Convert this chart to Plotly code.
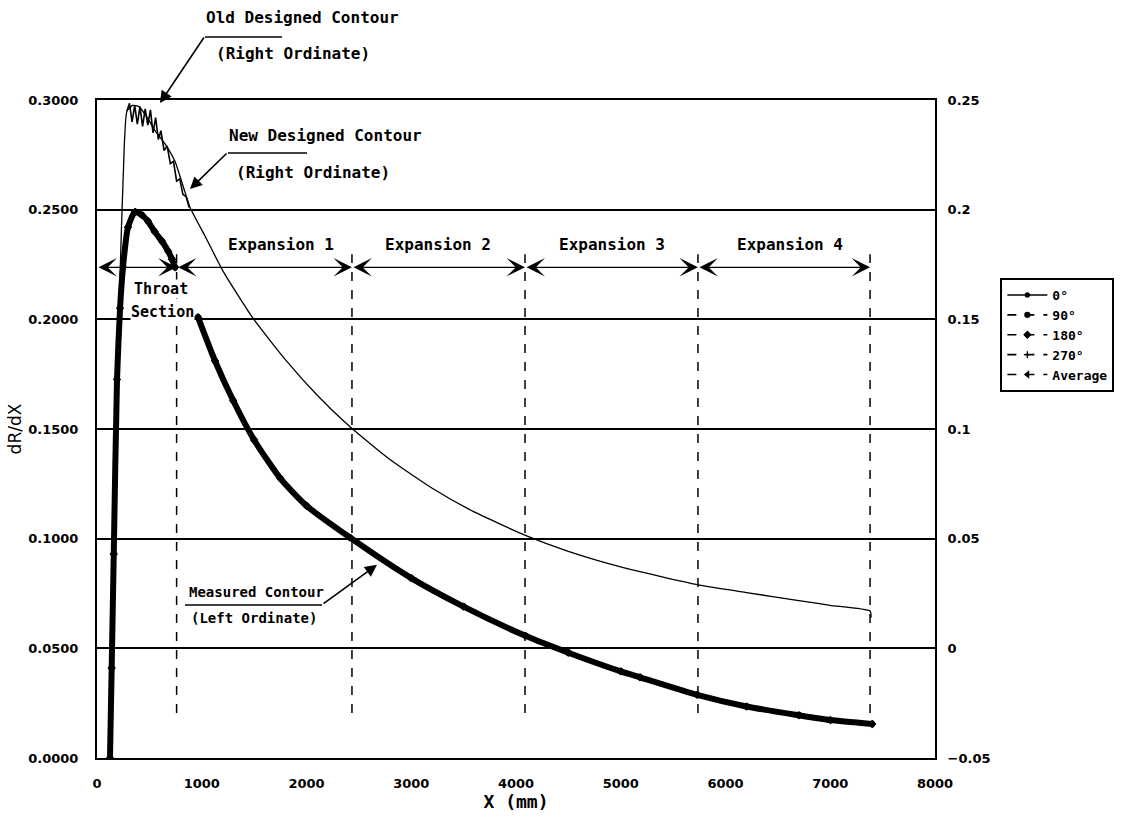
import plotly.graph_objects as go

# ---------------- data ----------------
# Measured contour (left ordinate, dR/dX); None marks the gap after the throat section
measured_x = [124, 140, 160, 191, 220, 248, 296, 363, 430, 487, 550, 620, 680, 716, 745, None,
              964, 1127, 1300, 1500, 1750, 2000, 2415, 3000, 3500, 4090, 4500, 5000, 5184,
              5730, 6200, 6700, 7000, 7400]
measured_dRdX = [0.0, 0.041, 0.093, 0.1726, 0.205, 0.2237, 0.242, 0.249, 0.2475, 0.2447, 0.240,
                 0.2356, 0.231, 0.2274, 0.2237, None,
                 0.201, 0.181, 0.163, 0.145, 0.1275, 0.1150, 0.1005, 0.082, 0.069, 0.0557,
                 0.048, 0.0395, 0.0368, 0.0288, 0.0235, 0.0195, 0.0173, 0.0155]

# New designed contour (right ordinate)
new_x = [124, 160, 191, 220, 250, 286, 340, 400, 480, 554, 649, 745, 840, 888, 1031, 1203, 1489,
         1800, 2100, 2415, 2800, 3200, 3600, 4090, 4500, 5000, 5730, 6200, 6700, 7000,
         7380, 7390]
new_dRdX = [-0.05, 0.043, 0.116, 0.170, 0.215, 0.245, 0.2475, 0.247, 0.242, 0.236, 0.230, 0.222,
            0.208, 0.201, 0.188, 0.172, 0.1505, 0.1315, 0.1155, 0.101, 0.086, 0.073, 0.0622,
            0.0515, 0.0442, 0.0371, 0.029, 0.0254, 0.0218, 0.0196, 0.0170, 0.0140]

# Old designed contour (right ordinate), wavy near the throat
old_x = [286, 310, 335, 360, 385, 410, 435, 460, 485, 510, 535, 560, 585, 610, 640, 670, 700,
         730, 760, 790, 820, 850, 880]
old_dRdX = [0.245, 0.2485, 0.240, 0.2475, 0.239, 0.247, 0.238, 0.246, 0.2385, 0.2455, 0.235,
            0.242, 0.232, 0.236, 0.227, 0.229, 0.221, 0.222, 0.213, 0.214, 0.207, 0.206, 0.201]

# Section boundaries (mm) and labels
section_bounds = [0, 760, 2434, 4086, 5737, 7380]
section_labels = ["Expansion 1", "Expansion 2", "Expansion 3", "Expansion 4"]
section_label_x = [1757, 3255, 4916, 6616]

legend_names = ["0°", "90°", "180°", "270°", "Average"]

# ---------------- styles ----------------
MONO = "DejaVu Sans Mono"
TICKF = dict(family="DejaVu Sans", size=13, color="black", weight="bold")
XTICKF = dict(family="DejaVu Sans", size=13, color="black", weight="bold")

fig = go.Figure()

styles = [
    dict(dash="solid", symbol="circle", size=4),
    dict(dash="dash", symbol="circle", size=5),
    dict(dash="dash", symbol="diamond", size=5),
    dict(dash="dash", symbol="cross-thin", size=5),
    dict(dash="dash", symbol="triangle-left", size=5),
]
# the four angle series and the average (they coincide on the chart)
for name, st in zip(legend_names, styles):
    fig.add_trace(go.Scatter(
        x=measured_x, y=measured_dRdX, name=name, mode="lines+markers",
        line=dict(color="black", width=1.6, dash=st["dash"], shape="spline", smoothing=0.6),
        marker=dict(color="black", symbol=st["symbol"], size=st["size"],
                    line=dict(color="black", width=1.3)),
        connectgaps=False,
    ))
# overlapping measured band as it appears in the chart
fig.add_trace(go.Scatter(x=measured_x, y=measured_dRdX, mode="lines", showlegend=False,
                         line=dict(color="black", width=6, shape="spline", smoothing=0.6),
                         connectgaps=False))

fig.add_trace(go.Scatter(x=new_x, y=new_dRdX, yaxis="y2", mode="lines", showlegend=False,
                         line=dict(color="black", width=1.3, shape="spline", smoothing=0.5)))
fig.add_trace(go.Scatter(x=old_x, y=old_dRdX, yaxis="y2", mode="lines", showlegend=False,
                         line=dict(color="black", width=1.6)))

Y_ARROW = 0.2237
Y_LAB = 0.2342
Y_TOP = 0.2297
Y_BOT = 0.0205

shapes = []
annotations = []
# vertical section boundary lines
for xb in section_bounds[1:]:
    shapes.append(dict(type="line", xref="x", yref="y", x0=xb, x1=xb, y0=Y_BOT, y1=Y_TOP,
                       line=dict(color="black", width=1.5, dash="dash")))
# section arrows
for i in range(len(section_bounds) - 1):
    annotations.append(dict(
        x=section_bounds[i + 1], y=Y_ARROW, ax=section_bounds[i], ay=Y_ARROW,
        xref="x", yref="y", axref="x", ayref="y", text="", showarrow=True,
        arrowside="end+start", arrowhead=3, startarrowhead=3, arrowsize=2.2,
        startarrowsize=2.2, arrowwidth=1.4, arrowcolor="black"))
for lab, xl in zip(section_labels, section_label_x):
    annotations.append(dict(x=xl, y=Y_LAB, xref="x", yref="y", text=lab, showarrow=False,
                            xanchor="center", yanchor="middle",
                            font=dict(family=MONO, size=16, color="black", weight="bold")))

PX0, PY0, PW, PH = 97, 758, 838, 658


def px(xp):
    return (xp - PX0) / PW


def py(yp):
    return (PY0 - yp) / PH


def txt(s, xp, yp, size=16, bg=None):
    d = dict(x=px(xp), y=py(yp), xref="paper", yref="paper", text=s, showarrow=False,
             xanchor="center", yanchor="middle", borderpad=0,
             font=dict(family=MONO, size=size, color="black", weight="bold"))
    if bg:
        d["bgcolor"] = bg
    annotations.append(d)


txt("Old Designed Contour", 302, 18)
txt("(Right Ordinate)", 293, 53)
txt("New Designed Contour", 325, 135)
txt("(Right Ordinate)", 313, 172)
txt("Measured Contour", 256, 592, size=14)
txt("(Left Ordinate)", 254, 618, size=14)
txt("Throat", 161, 289, size=15, bg="white")
txt("Section", 162, 312, size=15, bg="white")

# underlines
for (x0, x1, yy) in [(205, 282, 37), (228, 307, 153), (185, 322, 605)]:
    shapes.append(dict(type="line", xref="paper", yref="paper", x0=px(x0), x1=px(x1),
                       y0=py(yy), y1=py(yy), line=dict(color="black", width=1.6)))

# pointer arrows
annotations.append(dict(x=601, y=0.2486, xref="x", yref="y2", ax=45, ay=-67, text="",
                        showarrow=True, arrowhead=2, arrowsize=1.5, arrowwidth=1.6,
                        arrowcolor="black"))
annotations.append(dict(x=888, y=0.2094, xref="x", yref="y2", ax=38, ay=-37, text="",
                        showarrow=True, arrowhead=2, arrowsize=1.5, arrowwidth=1.6,
                        arrowcolor="black"))
annotations.append(dict(x=2673, y=0.0881, xref="x", yref="y", ax=-55, ay=40, text="",
                        showarrow=True, arrowhead=2, arrowsize=1.5, arrowwidth=1.6,
                        arrowcolor="black"))

fig.update_layout(
    width=1128, height=823,
    margin=dict(l=97, r=193, t=100, b=65),
    paper_bgcolor="white", plot_bgcolor="white",
    showlegend=True,
    legend=dict(x=1.078, y=0.7295, xanchor="left", yanchor="top",
                bordercolor="black", borderwidth=2, bgcolor="white",
                font=dict(family=MONO, size=13, color="black", weight="bold"),
                itemwidth=40, tracegroupgap=0),
    xaxis=dict(range=[0, 8000], dtick=1000, tick0=0, showgrid=False, zeroline=False,
               showline=True, linecolor="black", linewidth=2, mirror=True, automargin=False,
               ticks="", tickfont=XTICKF, ticklabelstandoff=12,
               title=dict(text="X (mm)", standoff=6,
                          font=dict(family=MONO, size=18, color="black", weight="bold"))),
    yaxis=dict(range=[0, 0.3], dtick=0.05, tick0=0, tickformat=".4f", showgrid=True,
               gridcolor="black", gridwidth=1.5, zeroline=False, showline=True,
               linecolor="black", linewidth=2, ticks="", tickfont=TICKF, automargin=False,
               ticklabelstandoff=14,
               title=dict(text="dR/dX", standoff=2,
                          font=dict(family="DejaVu Sans", size=17, color="black"))),
    yaxis2=dict(range=[-0.05, 0.25], dtick=0.05, tick0=0, overlaying="y", side="right",
                showgrid=False, zeroline=False, showline=True, linecolor="black",
                automargin=False, linewidth=2, ticks="", tickfont=TICKF,
                ticklabelstandoff=8),
    shapes=shapes,
    annotations=annotations,
)

fig.write_html("out.html")
